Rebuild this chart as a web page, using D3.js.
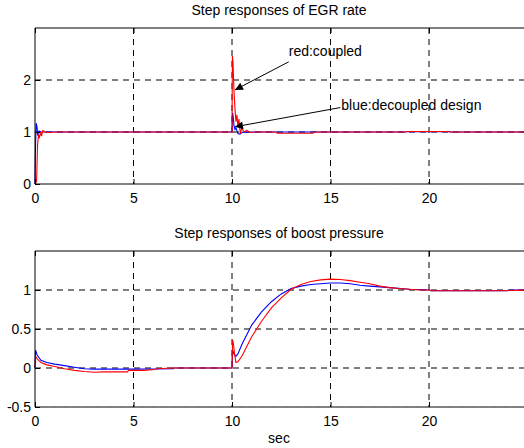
<!DOCTYPE html>
<html>
<head>
<meta charset="utf-8">
<script src="https://cdn.jsdelivr.net/npm/d3@7"></script>
<style>
  body { margin: 0; background: #fff; }
  svg { display: block; font-family: "Liberation Sans", Arial, sans-serif; }
</style>
</head>
<body>
<svg id="chart" width="524" height="448"></svg>
<script>
// EGR rate step responses
var egrRedT = [0, 0.08, 0.13, 0.18, 0.22, 0.28, 0.33, 0.4, 0.5, 0.7, 1, 10, 10.02, 10.05, 10.1, 10.15, 10.2, 10.25, 10.3, 10.35, 10.42, 10.5, 10.6, 10.75, 10.9, 11.2, 12.2, 12.3, 14.1, 14.2, 18.8, 18.9, 21, 21.1, 25];
var egrRed  = [0, 0.05, 0.75, 0.95, 0.88, 1.0, 0.92, 1.03, 1.0, 0.99, 1.0, 1.0, 2.46, 2.35, 1.8, 1.45, 1.2, 1.33, 1.1, 1.25, 0.97, 1.08, 1.0, 1.03, 0.99, 1.0, 1.0, 0.975, 0.975, 1.0, 1.0, 1.01, 1.01, 1.0, 1.0];
var egrBlueT = [0, 0.03, 0.06, 0.1, 0.14, 0.2, 0.3, 10, 10.03, 10.06, 10.1, 10.15, 10.2, 10.3, 10.4, 10.55, 10.7, 11, 18.8, 18.9, 21, 21.1, 25];
var egrBlue  = [0, 0.8, 1.17, 1.1, 0.93, 1.02, 1.0, 1.0, 1.37, 1.3, 1.12, 1.05, 1.08, 0.97, 0.96, 1.0, 0.99, 1.0, 1.0, 1.005, 1.005, 1.0, 1.0];

// boost pressure step responses
var bpRedT = [0, 0.03, 0.1, 0.3, 0.6, 1, 1.5, 2, 2.5, 3, 3.5, 4.7, 4.75, 5.5, 6.1, 6.2, 7, 10, 10.03, 10.08, 10.12, 10.2, 10.3, 10.5, 11, 11.5, 12, 12.5, 13, 13.5, 14, 14.5, 15, 15.5, 16, 16.5, 17, 17.5, 18, 18.5, 19, 19.5, 20, 20.1, 23.5, 25];
var bpRed  = [0, 0.15, 0.12, 0.07, 0.04, 0.02, -0.01, -0.03, -0.045, -0.055, -0.05, -0.05, -0.03, -0.03, -0.02, -0.01, 0, 0, 0.36, 0.3, 0.2, 0.07, 0.08, 0.15, 0.4, 0.6, 0.77, 0.9, 1.01, 1.07, 1.11, 1.13, 1.14, 1.135, 1.12, 1.1, 1.08, 1.05, 1.03, 1.02, 1.01, 1.0, 1.0, 0.99, 0.99, 1.0];
var bpBlueT = [0, 0.03, 0.1, 0.3, 0.6, 1, 1.5, 2, 2.5, 3, 5, 7, 7.05, 10, 10.03, 10.1, 10.2, 10.3, 10.5, 11, 11.5, 12, 12.5, 13, 13.5, 14, 14.5, 15, 15.5, 16, 16.5, 17, 17.5, 18, 19, 20, 20.1, 24, 24.1, 25];
var bpBlue  = [0, 0.23, 0.17, 0.1, 0.07, 0.05, 0.03, 0.01, -0.01, -0.015, -0.015, -0.01, 0, 0, 0.23, 0.18, 0.15, 0.18, 0.3, 0.55, 0.72, 0.85, 0.95, 1.02, 1.05, 1.07, 1.08, 1.09, 1.09, 1.08, 1.06, 1.05, 1.04, 1.03, 1.01, 1.0, 0.99, 0.99, 1.0, 1.0];

var xTicks = [0, 5, 10, 15, 20];
var egrTicks = [0, 1, 2];
var bpTicks = [-0.5, 0, 0.5, 1];

var svg = d3.select('#chart');
var fs = 14;

var x = d3.scaleLinear().domain([0, 25]).range([35, 527.5]);

function panel(top, bottom, yDomain, yTicks, title, red, redT, blue, blueT) {
    var y = d3.scaleLinear().domain(yDomain).range([bottom, top]);
    var g = svg.append("g");

    // grid
    g.selectAll(".gx").data(xTicks.slice(1)).enter().append("line")
        .attr("x1", function (d) { return x(d); }).attr("x2", function (d) { return x(d); })
        .attr("y1", top).attr("y2", bottom)
        .attr("stroke", "#000").attr("stroke-dasharray", "6,5");
    g.selectAll(".gy").data(yTicks.slice(1)).enter().append("line")
        .attr("x1", x(0)).attr("x2", 524)
        .attr("y1", function (d) { return y(d); }).attr("y2", function (d) { return y(d); })
        .attr("stroke", "#000").attr("stroke-dasharray", "6,5");

    // lines
    var line = d3.line()
        .x(function (d) { return x(d[0]); })
        .y(function (d) { return y(d[1]); });
    g.append("path").datum(d3.zip(blueT, blue))
        .attr("d", line).attr("fill", "none").attr("stroke", "#0000ff").attr("stroke-width", 1.1);
    g.append("path").datum(d3.zip(redT, red))
        .attr("d", line).attr("fill", "none").attr("stroke", "#ff0000").attr("stroke-width", 1.1);

    // frame
    g.append("line").attr("x1", x(0)).attr("x2", 524).attr("y1", top).attr("y2", top).attr("stroke", "#000");
    g.append("line").attr("x1", x(0)).attr("x2", 524).attr("y1", bottom).attr("y2", bottom).attr("stroke", "#000");
    g.append("line").attr("x1", x(0)).attr("x2", 524).attr("y1", bottom).attr("y2", bottom)
        .attr("stroke", "#888").attr("stroke-dasharray", "6,5");
    g.append("line").attr("x1", x(0)).attr("x2", x(0)).attr("y1", top).attr("y2", bottom).attr("stroke", "#000");

    // axes with inward ticks
    var xAxis = d3.axisBottom(x).tickValues(xTicks).tickSize(-5).tickPadding(9).tickFormat(function (d) { return String(d); });
    g.append("g").attr("transform", "translate(0," + bottom + ")").call(xAxis)
        .call(function (s) { s.select(".domain").remove(); });
    g.append("g").attr("transform", "translate(0," + top + ")")
        .call(d3.axisTop(x).tickValues(xTicks).tickSize(-5).tickFormat(""))
        .call(function (s) { s.select(".domain").remove(); });
    var yAxis = d3.axisLeft(y).tickValues(yTicks).tickSize(-5).tickPadding(4).tickFormat(function (d) { return String(d); });
    g.append("g").attr("transform", "translate(" + x(0) + ",0)").call(yAxis)
        .call(function (s) { s.select(".domain").remove(); });
    g.selectAll(".tick text").attr("font-size", fs).attr("font-family", "Liberation Sans, Arial, sans-serif").attr("fill", "#000");

    g.append("text").attr("x", 279).attr("y", top - 13).attr("text-anchor", "middle")
        .attr("font-size", fs).text(title);
    return y;
}

var yTop = panel(28, 184, [0, 3], egrTicks, "Step responses of EGR rate", egrRed, egrRedT, egrBlue, egrBlueT);
var yBot = panel(251, 407, [-0.5, 1.5], bpTicks, "Step responses of boost pressure", bpRed, bpRedT, bpBlue, bpBlueT);

svg.append("text").attr("x", 279).attr("y", 443).attr("text-anchor", "middle").attr("font-size", fs).text("sec");

// annotations
svg.append("defs").append("marker")
    .attr("id", "head").attr("viewBox", "0 0 10 10").attr("refX", 10).attr("refY", 5)
    .attr("markerWidth", 12).attr("markerHeight", 8).attr("markerUnits", "userSpaceOnUse")
    .attr("orient", "auto")
    .append("path").attr("d", "M0,0L10,5L0,10Z").attr("fill", "#000");

var notes = [
    { text: "red:coupled", tx: 12.88, ty: 2.46, x1: 12.88, y1: 2.35, x2: 10.15, y2: 1.81 },
    { text: "blue:decoupled design", tx: 15.55, ty: 1.42, x1: 15.5, y1: 1.47, x2: 10.15, y2: 1.1 }
];
notes.forEach(function (n) {
    svg.append("line")
        .attr("x1", x(n.x1)).attr("y1", yTop(n.y1))
        .attr("x2", x(n.x2)).attr("y2", yTop(n.y2))
        .attr("stroke", "#000").attr("marker-end", "url(#head)");
    svg.append("text").attr("x", x(n.tx)).attr("y", yTop(n.ty))
        .attr("font-size", fs).text(n.text);
});
</script>
</body>
</html>
